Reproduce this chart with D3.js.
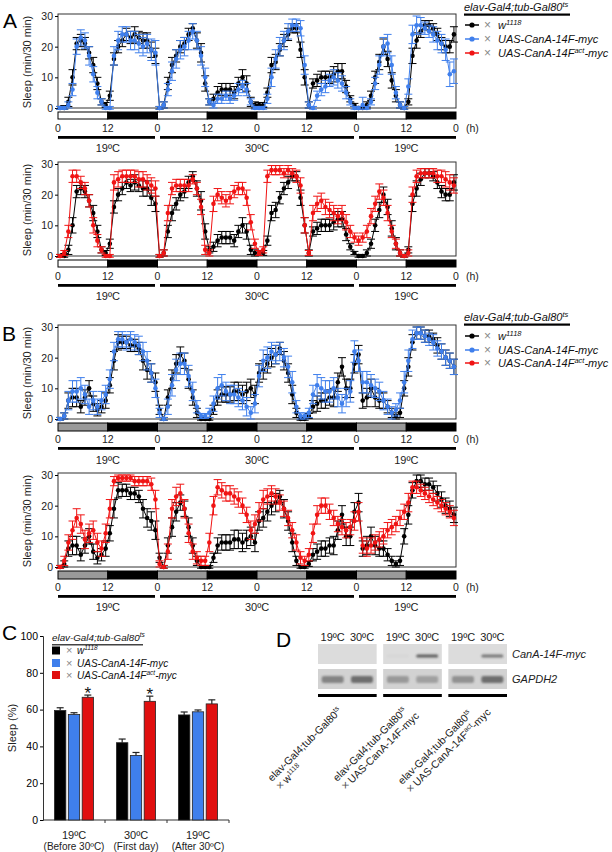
<!DOCTYPE html>
<html><head><meta charset="utf-8">
<script src="https://cdn.jsdelivr.net/npm/d3@7"></script>
<style>
body{margin:0;background:#fff;}
svg{display:block;font-family:"Liberation Sans",Arial,sans-serif;}
</style></head><body>
<svg id="fig" width="612" height="852"></svg>
<script>
// ---------------- DATA ----------------
// Time series: hourly sleep (min/30 min) over 4 days (19ºC, 30ºC, 30ºC, 19ºC)
const tsHours = d3.range(96);
const wA = [0,0,2,10,21,22,21,18,14,8,2,1, 4,16,20,22,24,23,24,23,22,22,19,17,
            0,1,8,14,17,20,21,24,26,22,18,8, 2,3,5,6,6,6,5,8,10,8,2,1,
            1,1,5,14,15,19,22,24,26,26,19,10, 1,8,9,10,10,10,11,12,12,7,3,1,
            0,0,1,4,10,15,20,16,9,4,1,0, 2,17,22,25,27,27,26,24,21,20,20,24];
const wAErr = [0.5,0.8,1.5,2.5,2,2,2,2,2.5,2,1,0.8, 1.5,2,2,2,2,2,2.5,2,2.5,2.5,2.5,2.5,
               0.5,1,2,2.5,2,2,2,2,1.5,2.5,3,2.5, 1,1.5,2,2,2,2,2,2,2.5,2.5,1.5,1,
               0.8,0.8,1.5,2.5,2.5,2,2,2,1.5,1.5,2.5,2.5, 1,1.5,2,2,2,2,2.5,2.5,2.5,2,1,0.5,
               0.5,0.5,1,1.5,2,2.5,2.5,2.5,2.5,2,1,0.5, 1,2.5,2.5,2,1.5,1.5,1.5,2,2,2,2,2.5];
const bA = [0,0,1,6,20,23,22,17,11,5,2,0, 0,17,22,24,24,22,22,21,20,21,19,18,
            0,1,6,12,16,19,20,22,25,22,17,10, 2,1,3,3,4,3,4,6,7,6,2,0,
            0,0,3,10,16,20,22,25,27,27,26,14, 1,0,4,6,7,9,10,9,8,5,2,0,
            0,1,0,2,8,14,20,21,14,5,1,0, 7,24,27,27,26,25,24,22,21,19,11,12];
const bAErr = [0.5,0.5,1,2,2.5,2.5,2.5,3,2.5,2,1,0.5, 0.5,3,3,2.5,2.5,3,3,3,3,3,3.5,4,
               0.5,1,2,3,3,3,3,3,2.5,3,3,3, 1,1,1.5,1.5,1.5,1.5,1.5,2,2,2,1,0.5,
               0.5,0.5,1.5,3,3,3,3,2.5,2,2,2.5,3, 1,0.5,1.5,2,2,2,2.5,2.5,2.5,2,1,0.5,
               0.5,2.5,0.5,1,2,3,3,3,3,2,1,0.5, 2.5,3,3,2.5,2,2,2.5,3,3,3.5,4,4];
const rA = [0,1,8,26,26,24,22,18,10,5,2,0, 0,24,25,26,26,26,26,25,25,24,23,22,
            0,1,14,22,23,23,23,23,25,22,16,2, 1,17,20,19,18,19,21,22,22,19,11,4,
            1,2,26,28,28,28,27,28,27,26,23,10, 1,14,17,18,16,15,14,13,14,11,8,6,
            5,6,8,13,17,21,19,14,8,4,1,0, 1,20,26,27,27,27,27,26,26,25,24,23];
const rAErr = [0.5,0.8,2,2,2,2,2,2,2.5,2,1,0.5, 0.5,2.5,2.5,2,2,2,2,2.5,2.5,2.5,2.5,2.5,
               0.5,1,2.5,2,2,2,2,2,1.5,2,2.5,1.5, 1,2.5,2,2,2,2,2,2,2,2.5,2.5,1.5,
               0.8,1,2,1.5,1.5,1.5,1.5,1.5,1.5,2,2.5,2.5, 0.8,2.5,2.5,2.5,2.5,2.5,2.5,2.5,2.5,2.5,2,1.5,
               1.5,1.5,2,2.5,2.5,2.5,2.5,2.5,2,1.5,1,0.5, 1,2.5,2,1.5,1.5,1.5,1.5,2,2,2.5,2.5,2.5];
const wB = [0,1,6,7,7,4,7,10,5,3,4,6, 11,19,25,25,25,24,24,23,19,16,15,12,
            3,0,7,13,18,21,19,13,7,2,0,0, 0,3,7,8,8,8,9,9,8,9,10,8,
            15,16,18,20,21,23,19,15,8,2,0,0, 1,4,5,6,6,7,7,12,17,10,10,18,
            21,6,7,10,7,6,6,4,2,1,2,10, 17,25,28,28,27,27,26,24,22,20,19,17];
const wBErr = [0.5,1,2.5,3,3,2,2.5,2.5,2.5,2,2,2.5, 2.5,3,2.5,2,2,2,2,2,3,3,3,3,
               1.5,0.5,2.5,3,3,2.5,2.5,3,2.5,1.5,0.5,0.5, 0.5,1.5,2.5,2.5,2.5,2.5,3,3,3,3,3,3,
               3,3,3,3,3,2,3,3,3,1.5,0.5,0.5, 0.8,2,2.5,2.5,2.5,2.5,3,3,3,3,3,3,
               3,2.5,3,3,3,2.5,2.5,2,1.5,1,1.5,2.5, 3,2.5,2,2,2,2,2,2.5,2.5,2.5,2.5,2.5];
const bB = [0,1,6,9,9,10,8,4,6,4,6,8, 13,22,26,26,25,26,25,24,22,19,15,10,
            2,0,4,11,16,18,18,14,9,4,1,1, 2,5,10,11,9,8,8,7,6,4,2,5,
            14,19,20,22,21,22,20,17,12,4,1,1, 2,8,11,10,9,9,10,7,5,7,9,22,
            19,12,12,11,10,9,6,4,2,3,6,12, 19,26,28,28,27,26,25,23,22,20,19,17];
const bBErr = [0.5,1,3,3.5,3.5,3.5,3,2.5,3,2.5,3,3, 3,3,2.5,2.5,2.5,2.5,2.5,3,3,3,3,3,
               1.5,0.5,2.5,3.5,3.5,3.5,3.5,3.5,3,2,0.8,0.8, 1.5,2.5,3.5,3.5,3,3,3,3,3,3,2,3,
               3.5,3.5,3.5,3,3,3,3,3.5,3.5,2,1,1, 1.5,3,3.5,3.5,3.5,3.5,3.5,3,3,3,3.5,3.5,
               3.5,3.5,3.5,3.5,3,3,3,2.5,2,2,2.5,3.5, 3.5,3,2,2,2,2,2.5,2.5,2.5,2.5,2.5,2.5];
const rB = [0,2,8,12,16,14,9,11,12,8,6,11, 19,28,29,29,29,29,28,28,28,28,27,22,
            1,0,5,19,23,24,19,11,5,3,2,2, 8,20,26,25,24,24,23,22,20,17,12,14,
            18,22,23,24,23,21,19,16,12,8,3,2, 4,11,17,20,20,18,16,14,13,12,13,15,
            18,7,6,7,8,9,10,12,13,14,16,18, 21,26,26,25,24,23,22,21,20,19,18,16];
const rBErr = [0.5,1.5,2.5,3,3,3,3,3,3,3,2.5,3, 3,1.5,1,1,1,1,1.5,1.5,1.5,1.5,2,3,
               1,0.5,2.5,3,3,3,3,3,2.5,2,1.5,1.5, 3,3,2.5,2.5,2.5,2.5,2.5,2.5,2.5,2.5,3,3,
               3,3,2.5,2.5,2.5,2.5,2.5,2.5,2.5,2.5,2,1.5, 2,3,3,2.5,2.5,2.5,2.5,2.5,2.5,2.5,2.5,3,
               3,2.5,2.5,2.5,2.5,2.5,2.5,2.5,2.5,2.5,2.5,2.5, 3,2,2,2,2,2,2,2,2,2,2,2.5];

const tsYTicks = [0,10,20,30];
const ldHours = [0,12,24,36,48,60,72,84,96];
const ldLabels = ["0","12","0","12","0","12","0","12","0"];
const tempNames = ["19ºC","30ºC","19ºC"];
const tempStart = [0,24,72];
const tempEnd = [24,72,96];

const genotypeTitle = "elav-Gal4;tub-Gal80";
const genotypeTitleSup = "ts";
const legendNames = [["w","1118",""],["UAS-CanA-14F-myc","",""],["UAS-CanA-14F","act","-myc"]];

// Panel C
const cGroups = ["19ºC","30ºC","19ºC"];
const cGroupSub = ["(Before 30ºC)","(First day)","(After 30ºC)"];
const cBlack = [59.5,42,57.1];
const cBlackErr = [1.5,2,1.6];
const cBlue = [57.3,35.1,58.8];
const cBlueErr = [1,1.6,1];
const cRed = [66.7,64.5,63.1];
const cRedErr = [1.2,2.8,2.2];
const cSig = ["*","*",""];
const cYTicks = [0,20,40,60,80,100];

// Panel D
const gelLaneTemps = ["19ºC","30ºC"];
const gelRows = ["CanA-14F-myc","GAPDH2"];
const mycBand = [[0,0],[0.03,0.75],[0,0.6]];
const gapdhBand = [[0.55,0.7],[0.4,0.35],[0.45,0.7]];
const gelLine2 = [["w","1118",""],["UAS-CanA-14F-myc","",""],["UAS-CanA-14F","act","-myc"]];

// ---------------- DRAW ----------------
const COL = {w:"#000000", b:"#3f7fec", r:"#f01414"};
const svg = d3.select("#fig");
const FONT = "'Liberation Sans',Arial,sans-serif";

const xTS = d3.scaleLinear().domain([0,96]).range([58,456]);

function supText(sel, parts, supSize){
  sel.append("tspan").text(parts[0]);
  if(parts[1]){
    sel.append("tspan").attr("dy",-4).attr("font-size",supSize).text(parts[1]);
    if(parts[2]) sel.append("tspan").attr("dy",4).text(parts[2]);
  }
}

function drawTS(zeroY, lightFill, series, ldH, tempOff){
  const g = svg.append("g");
  const y = d3.scaleLinear().domain([0,30]).range([zeroY, zeroY-92]);
  g.append("rect").attr("x",58).attr("y",zeroY-94).attr("width",398).attr("height",94)
    .attr("fill","none").attr("stroke","#333").attr("stroke-width",1);
  const ax = g.append("g").attr("transform","translate(58,0)")
    .call(d3.axisLeft(y).tickValues(tsYTicks).tickSize(3).tickPadding(2));
  ax.select(".domain").remove();
  ax.attr("font-family",FONT).attr("font-size",10.5);
  ax.selectAll("text").attr("fill","#222");
  g.append("text").attr("transform",`translate(31,${zeroY-46}) rotate(-90)`).attr("text-anchor","middle")
    .attr("font-size",11).attr("fill","#222").text("Sleep (min/30 min)");
  series.forEach(s=>{
    const sg = g.append("g");
    const px = i=>xTS(tsHours[i]+0.5);
    sg.append("path").datum(s.v).attr("d",d3.line().x((d,i)=>px(i)).y(d=>y(d)))
      .attr("fill","none").attr("stroke",s.c).attr("stroke-width",1);
    sg.selectAll("path.eb").data(s.v).join("path").attr("class","eb")
      .attr("d",(d,i)=>{const xx=px(i), y1=y(d+s.e[i]), y2=y(Math.max(-0.4,d-s.e[i]));
        return `M${xx},${y1}V${y2}M${xx-4},${y1}h8M${xx-4},${y2}h8`;})
      .attr("stroke",s.c).attr("stroke-width",1).attr("fill","none");
    sg.selectAll("circle").data(s.v).join("circle").attr("cx",(d,i)=>px(i)).attr("cy",d=>y(d))
      .attr("r",2.3).attr("fill",s.c);
  });
  const ldTop = zeroY+4;
  for(let d=0; d<4; d++){
    g.append("rect").attr("x",xTS(d*24)).attr("y",ldTop).attr("width",xTS(12)-xTS(0)).attr("height",ldH)
      .attr("fill",lightFill).attr("stroke","#000").attr("stroke-width",1);
    g.append("rect").attr("x",xTS(d*24+12)).attr("y",ldTop).attr("width",xTS(12)-xTS(0)).attr("height",ldH)
      .attr("fill","#000").attr("stroke","#000").attr("stroke-width",1);
  }
  g.selectAll("text.ld").data(ldHours).join("text").attr("class","ld")
    .attr("x",d=>xTS(d)).attr("y",zeroY+24).attr("text-anchor","middle").attr("font-size",10.5).attr("fill","#222")
    .text((d,i)=>ldLabels[i]);
  g.append("text").attr("x",466).attr("y",zeroY+24).attr("font-size",10.5).attr("fill","#222").text("(h)");
  tempNames.forEach((t,i)=>{
    const x1 = xTS(tempStart[i]) + (tempStart[i]>0?2.5:0);
    const x2 = xTS(tempEnd[i]) - (tempEnd[i]<96?2.5:0);
    g.append("rect").attr("x",x1).attr("y",zeroY+28).attr("width",x2-x1).attr("height",2.8).attr("fill","#000");
    g.append("text").attr("x",(xTS(tempStart[i])+xTS(tempEnd[i]))/2).attr("y",zeroY+tempOff)
      .attr("text-anchor","middle").attr("font-size",11).attr("fill","#222").text(t);
  });
}

function drawLegend(x, yTitle, rowY){
  const g = svg.append("g");
  const t = g.append("text").attr("x",x).attr("y",yTitle).attr("font-size",11).attr("font-style","italic").attr("fill","#111");
  supText(t,[genotypeTitle,genotypeTitleSup,""],7.5);
  g.append("rect").attr("x",x).attr("y",yTitle+2.5).attr("width",106).attr("height",2.2).attr("fill","#000");
  const cols=[COL.w,COL.b,COL.r];
  legendNames.forEach((n,i)=>{
    const yy = rowY[i];
    g.append("line").attr("x1",x+1).attr("x2",x+15).attr("y1",yy).attr("y2",yy).attr("stroke",cols[i]).attr("stroke-width",1.5);
    g.append("circle").attr("cx",x+8).attr("cy",yy).attr("r",2.6).attr("fill",cols[i]);
    g.append("text").attr("x",x+20).attr("y",yy+4).attr("font-size",12).attr("fill","#888").text("×");
    const tt = g.append("text").attr("x",x+34).attr("y",yy+4).attr("font-size",11).attr("font-style","italic").attr("fill","#111");
    supText(tt,n,7.5);
  });
}

[["A",3,28],["B",2,341],["C",2,640],["D",276,647]].forEach(p=>{
  svg.append("text").attr("x",p[1]).attr("y",p[2]).attr("font-size",21).attr("fill","#000").text(p[0]);
});

drawTS(108, "#ffffff", [{v:wA,e:wAErr,c:COL.w},{v:bA,e:bAErr,c:COL.b}], 7, 44);
drawTS(256, "#ffffff", [{v:wA,e:wAErr,c:COL.w},{v:rA,e:rAErr,c:COL.r}], 7, 44);
drawTS(419, "#9a9a9a", [{v:wB,e:wBErr,c:COL.w},{v:bB,e:bBErr,c:COL.b}], 8, 45);
drawTS(567, "#9a9a9a", [{v:wB,e:wBErr,c:COL.w},{v:rB,e:rBErr,c:COL.r}], 8, 44);
drawLegend(464, 11, [25,39,53]);
drawLegend(464, 321, [336,350,363]);

// ---------------- Panel C ----------------
(function(){
  const g = svg.append("g");
  const y = d3.scaleLinear().domain([0,100]).range([820,636]);
  const x0 = d3.scaleBand().domain(d3.range(3)).range([43,229]);
  const x1 = d3.scaleBand().domain(d3.range(3)).range([-19.5,19.5]).paddingInner(0.18);
  const ax = g.append("g").attr("transform","translate(43,0)").call(d3.axisLeft(y).tickValues(cYTicks).tickSize(3).tickPadding(2));
  ax.attr("font-family",FONT).attr("font-size",10.5);
  ax.select(".domain").attr("stroke","#333");
  g.append("line").attr("x1",43).attr("x2",229).attr("y1",820).attr("y2",820).attr("stroke","#333");
  [1,2,3].forEach(k=>{
    const xx = 43 + k*x0.step();
    g.append("line").attr("x1",xx).attr("x2",xx).attr("y1",820).attr("y2",823).attr("stroke","#333");
  });
  g.append("text").attr("transform","translate(16,728) rotate(-90)").attr("text-anchor","middle")
    .attr("font-size",11).attr("fill","#222").text("Sleep (%)");
  const ser = [{v:cBlack,e:cBlackErr,c:"#000"},{v:cBlue,e:cBlueErr,c:COL.b},{v:cRed,e:cRedErr,c:"#e00f0f"}];
  ser.forEach((s,si)=>{
    s.v.forEach((v,gi)=>{
      const cx = x0(gi)+x0.bandwidth()/2 + x1(si);
      const w = x1.bandwidth();
      g.append("line").attr("x1",cx+w/2).attr("x2",cx+w/2).attr("y1",y(v)).attr("y2",y(v+s.e[gi])).attr("stroke","#222").attr("stroke-width",1.2);
      g.append("line").attr("x1",cx+w/2-3.5).attr("x2",cx+w/2+3.5).attr("y1",y(v+s.e[gi])).attr("y2",y(v+s.e[gi])).attr("stroke","#222").attr("stroke-width",1.2);
      g.append("rect").attr("x",cx).attr("y",y(v)).attr("width",w).attr("height",820-y(v))
        .attr("fill",s.c).attr("stroke","#222").attr("stroke-width",0.8);
      if(si===2 && cSig[gi]){
        g.append("text").attr("x",cx+w/2).attr("y",y(v+s.e[gi])+4).attr("text-anchor","middle")
          .attr("font-size",17).attr("fill","#111").text(cSig[gi]);
      }
    });
  });
  cGroups.forEach((t,i)=>{
    const cx = x0(i)+x0.bandwidth()/2;
    g.append("text").attr("x",cx).attr("y",839).attr("text-anchor","middle").attr("font-size",11).attr("fill","#222").text(t);
    g.append("text").attr("x",cx).attr("y",850).attr("text-anchor","middle").attr("font-size",10).attr("fill","#222").text(cGroupSub[i]);
  });
  const lt = g.append("text").attr("x",52).attr("y",641).attr("font-size",9.8).attr("font-style","italic").attr("fill","#111");
  supText(lt,[genotypeTitle,genotypeTitleSup,""],6.5);
  g.append("rect").attr("x",52).attr("y",644).attr("width",91).attr("height",1.5).attr("fill","#444");
  const cols=["#000",COL.b,"#e00f0f"];
  legendNames.forEach((n,i)=>{
    const yy=[650.5,663,675][i];
    g.append("rect").attr("x",52).attr("y",yy-4).attr("width",8).attr("height",8).attr("fill",cols[i]);
    g.append("text").attr("x",66).attr("y",yy+3.5).attr("font-size",11).attr("fill","#888").text("×");
    const tt=g.append("text").attr("x",77).attr("y",yy+3.5).attr("font-size",10).attr("font-style","italic").attr("fill","#111");
    supText(tt,n,6.5);
  });
})();

// ---------------- Panel D ----------------
(function(){
  const g = svg.append("g");
  const defs = svg.append("defs");
  const f = defs.append("filter").attr("id","blur").attr("x","-50%").attr("y","-100%").attr("width","200%").attr("height","300%");
  f.append("feGaussianBlur").attr("stdDeviation",1.3);
  const xBox = d3.scaleBand().domain(d3.range(3)).range([318,507]).paddingInner(0.1);
  const xLane = d3.scaleBand().domain(d3.range(2)).range([0,xBox.bandwidth()]);
  d3.range(3).forEach(bi=>{
    const bx = xBox(bi), bw = xBox.bandwidth();
    gelLaneTemps.forEach((t,li)=>{
      g.append("text").attr("x",bx+xLane(li)+xLane.bandwidth()/2).attr("y",641).attr("text-anchor","middle")
        .attr("font-size",11).attr("fill","#222").text(t);
    });
    g.append("rect").attr("x",bx).attr("y",644).attr("width",bw).attr("height",20).attr("fill","#dcdcdc");
    g.append("rect").attr("x",bx).attr("y",669).attr("width",bw).attr("height",20).attr("fill","#d2d2d2");
    g.append("rect").attr("x",bx).attr("y",694).attr("width",bw).attr("height",3).attr("fill","#000");
    [0,1].forEach(li=>{
      const cx = bx+xLane(li)+xLane.bandwidth()/2;
      if(mycBand[bi][li]>0)
        g.append("rect").attr("x",cx-11).attr("y",654.5).attr("width",22).attr("height",3).attr("rx",1.5)
          .attr("fill","#333").attr("opacity",mycBand[bi][li]).attr("filter","url(#blur)");
      g.append("rect").attr("x",cx-11).attr("y",676).attr("width",22).attr("height",7).attr("rx",2)
        .attr("fill","#444").attr("opacity",gapdhBand[bi][li]).attr("filter","url(#blur)");
    });
    const lx = xBox(bi)-46, ly = 782 + (bi===2?3:0);
    const lg = g.append("g").attr("transform",`translate(${lx},${ly}) rotate(-45)`);
    const t1 = lg.append("text").attr("x",0).attr("y",0).attr("font-size",10.5).attr("fill","#222");
    supText(t1,[genotypeTitle,genotypeTitleSup,""],7);
    lg.append("text").attr("x",0).attr("y",12).attr("font-size",12).attr("fill","#555").text("×");
    const t2 = lg.append("text").attr("x",9).attr("y",12).attr("font-size",10.5).attr("fill","#222");
    supText(t2,gelLine2[bi],7);
  });
  gelRows.forEach((r,i)=>{
    g.append("text").attr("x",512).attr("y",[658,683][i]).attr("font-size",11).attr("font-style","italic").attr("fill","#222").text(r);
  });
})();
</script>
</body></html>
